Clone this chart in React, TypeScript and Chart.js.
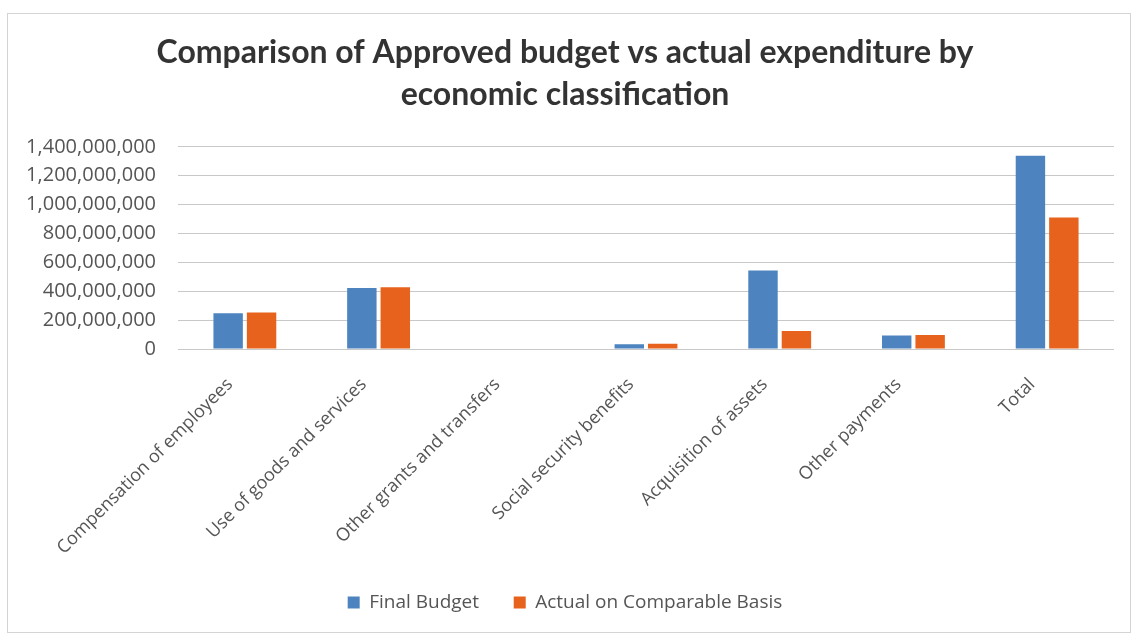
import React, { useEffect, useRef } from "react";
import { Chart, registerables } from "chart.js";

Chart.register(...registerables);

const categories = [
  "Compensation of employees",
  "Use of goods and services",
  "Other grants and transfers",
  "Social security benefits",
  "Acquisition of assets",
  "Other payments",
  "Total",
];
const finalBudget = [248000000, 423000000, 0, 33000000, 543000000, 93000000, 1339000000];
const actualComparable = [253000000, 427000000, 0, 37000000, 125000000, 97000000, 910000000];
const titleLines = [
  "Comparison of Approved budget vs actual expenditure by",
  "economic classification",
];
const seriesNames = ["Final Budget", "Actual on Comparable Basis"];

export default function App() {
  const ref = useRef<HTMLCanvasElement | null>(null);
  useEffect(() => {
    if (!ref.current) return;
    const chart = new Chart(ref.current, {
      type: "bar",
      data: {
        labels: categories,
        datasets: [
          { label: seriesNames[0], data: finalBudget, backgroundColor: "#4d84bf", categoryPercentage: 0.5, barPercentage: 0.88 },
          { label: seriesNames[1], data: actualComparable, backgroundColor: "#e6621d", categoryPercentage: 0.5, barPercentage: 0.88 },
        ],
      },
      options: {
        animation: false,
        responsive: false,
        layout: { padding: { left: 8, right: 16, top: 0, bottom: 10 } },
        plugins: {
          title: {
            display: true,
            text: titleLines,
            color: "#333333",
            font: { family: "Lato", size: 32, weight: "bold", lineHeight: 1.31 },
            padding: { top: 18, bottom: 31 },
          },
          legend: {
            position: "bottom",
            labels: {
              color: "#555555",
              font: { family: "Open Sans", size: 19 },
              boxWidth: 12,
              boxHeight: 12,
              padding: 10,
              generateLabels: (c: any) => {
                const items = Chart.defaults.plugins.legend.labels.generateLabels(c);
                return items.map((it: any, i: number) =>
                  i < items.length - 1 ? { ...it, text: it.text + "     " } : it
                );
              },
            },
          },
          tooltip: { enabled: false },
        },
        scales: {
          x: {
            grid: { display: false },
            border: { display: false },
            ticks: {
              color: "#555555",
              font: { family: "Open Sans", size: 18 },
              minRotation: 45,
              maxRotation: 45,
              padding: 17,
              labelOffset: -15,
            },
            afterFit: (s: any) => {
              s.height = 234;
            },
          },
          y: {
            min: 0,
            max: 1400000000,
            border: { display: false },
            grid: { color: "#c8c8c8", drawTicks: false, lineWidth: 1 },
            ticks: {
              stepSize: 200000000,
              color: "#555555",
              font: { family: "Open Sans", size: 20 },
              padding: 22,
              callback: (v: any) => Number(v).toLocaleString("en-US"),
            },
            afterFit: (s: any) => {
              s.width = 162;
            },
          },
        },
      },
    });
    return () => chart.destroy();
  }, []);
  return (
    <div
      style={{
        position: "absolute",
        left: 7,
        top: 13,
        width: 1122,
        height: 618,
        border: "1px solid #d4d4d4",
        background: "#fff",
      }}
    >
      <canvas ref={ref} width={1122} height={618} style={{ display: "block" }} />
    </div>
  );
}
